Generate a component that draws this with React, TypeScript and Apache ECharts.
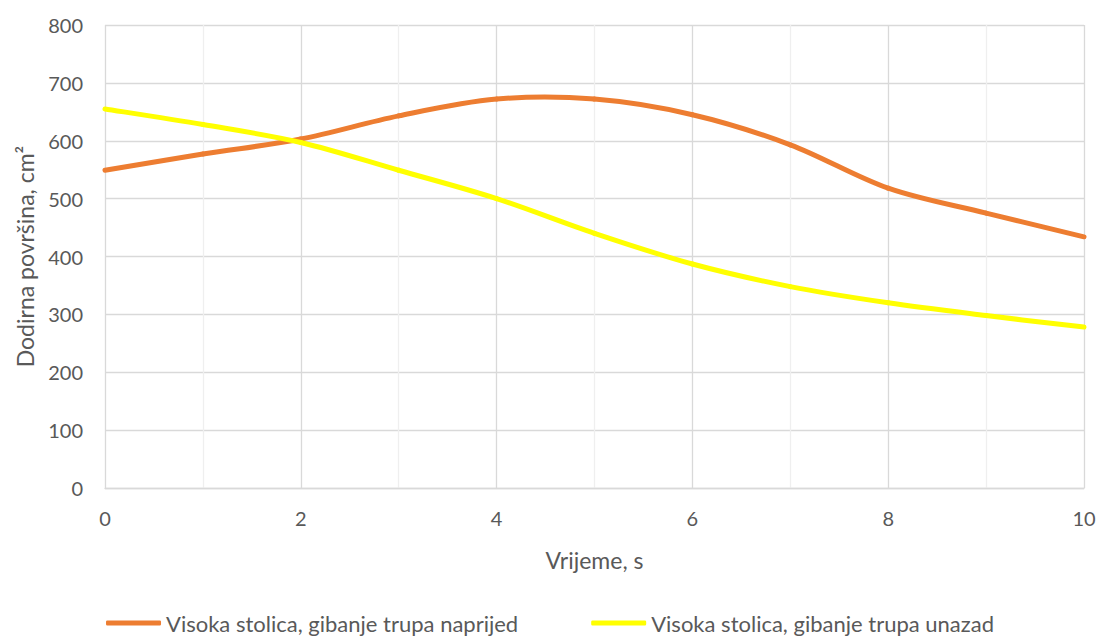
import React, { useEffect, useRef } from "react";
import * as echarts from "echarts";

const times = [0, 1, 2, 3, 4, 5, 6, 7, 8, 9, 10];
const forwardValues = [549, 577, 603, 643, 672, 672, 645, 593, 518, 475, 434];
const backwardValues = [655, 628, 597, 549, 500, 440, 387, 348, 320, 298, 278];
const seriesNames = [
  "Visoka stolica, gibanje trupa naprijed",
  "Visoka stolica, gibanje trupa unazad",
];
const seriesColors = ["#ED7D31", "#FFFF00"];
const xTitle = "Vrijeme, s";
const yTitle = "Dodirna površina, cm²";

const FONT = "Lato, 'Open Sans', sans-serif";
const TEXT = "#595959";

// Smooth (Catmull-Rom style) curve segment between consecutive data points,
// positioned through the chart's own coordinate system (api.coord).
function makeRenderItem(values: number[], color: string) {
  return (params: any, api: any) => {
    const i = params.dataIndex;
    const n = values.length;
    if (i >= n - 1) return { type: "group", children: [] };
    const pt = (k: number) => {
      const kk = Math.max(0, Math.min(n - 1, k));
      return api.coord([times[kk], values[kk]]);
    };
    const p0 = pt(i - 1);
    const p1 = pt(i);
    const p2 = pt(i + 1);
    const p3 = pt(i + 2);
    const t = 1 / 6;
    return {
      type: "bezierCurve",
      shape: {
        x1: p1[0],
        y1: p1[1],
        x2: p2[0],
        y2: p2[1],
        cpx1: p1[0] + (p2[0] - p0[0]) * t,
        cpy1: p1[1] + (p2[1] - p0[1]) * t,
        cpx2: p2[0] - (p3[0] - p1[0]) * t,
        cpy2: p2[1] - (p3[1] - p1[1]) * t,
      },
      style: { stroke: color, lineWidth: 5, fill: null, lineCap: "round" },
      silent: true,
    };
  };
}

export default function App() {
  const ref = useRef<HTMLDivElement>(null);
  useEffect(() => {
    document.body.style.margin = "0";
    if (!ref.current) return;
    const chart = echarts.init(ref.current, undefined, { renderer: "svg" });
    chart.setOption({
      animation: false,
      backgroundColor: "#ffffff",
      textStyle: { fontFamily: FONT, color: TEXT },
      grid: { left: 105, right: 16, top: 25, bottom: 154, containLabel: false },
      legend: {
        bottom: 3,
        left: "center",
        itemWidth: 55,
        itemHeight: 5,
        itemGap: 73,
        icon: "roundRect",
        textStyle: { fontFamily: FONT, fontSize: 22, color: TEXT },
        data: seriesNames.map((name, i) => ({
          name,
          icon: "roundRect",
          itemStyle: { color: seriesColors[i] },
        })),
      },
      xAxis: {
        type: "value",
        min: 0,
        max: 10,
        interval: 2,
        name: xTitle,
        nameLocation: "middle",
        nameGap: 60,
        nameTextStyle: { fontFamily: FONT, fontSize: 23, color: TEXT },
        axisLine: { show: true, lineStyle: { color: "#d9d9d9", width: 1.3 } },
        axisTick: { show: false },
        axisLabel: { fontFamily: FONT, fontSize: 20, color: TEXT, margin: 20 },
        splitLine: { show: true, lineStyle: { color: "#d9d9d9", width: 1.3 } },
        minorTick: { show: false, splitNumber: 2 },
        minorSplitLine: { show: true, lineStyle: { color: "#efefef", width: 1.3 } },
      },
      yAxis: {
        type: "value",
        min: 0,
        max: 800,
        interval: 100,
        name: yTitle,
        nameLocation: "middle",
        nameGap: 69,
        nameTextStyle: { fontFamily: FONT, fontSize: 23, color: TEXT },
        axisLine: { show: false },
        axisTick: { show: false },
        axisLabel: { fontFamily: FONT, fontSize: 20, color: TEXT, margin: 22 },
        splitLine: { show: true, lineStyle: { color: "#d9d9d9", width: 1.3 } },
      },
      series: [
        {
          name: seriesNames[0],
          type: "custom",
          renderItem: makeRenderItem(forwardValues, seriesColors[0]),
          itemStyle: { color: seriesColors[0] },
          encode: { x: 0, y: 1 },
          data: times.map((t, i) => [t, forwardValues[i]]),
        },
        {
          name: seriesNames[1],
          type: "custom",
          renderItem: makeRenderItem(backwardValues, seriesColors[1]),
          itemStyle: { color: seriesColors[1] },
          encode: { x: 0, y: 1 },
          data: times.map((t, i) => [t, backwardValues[i]]),
        },
      ],
    });
    return () => chart.dispose();
  }, []);
  return <div ref={ref} style={{ width: 1100, height: 642 }} />;
}
